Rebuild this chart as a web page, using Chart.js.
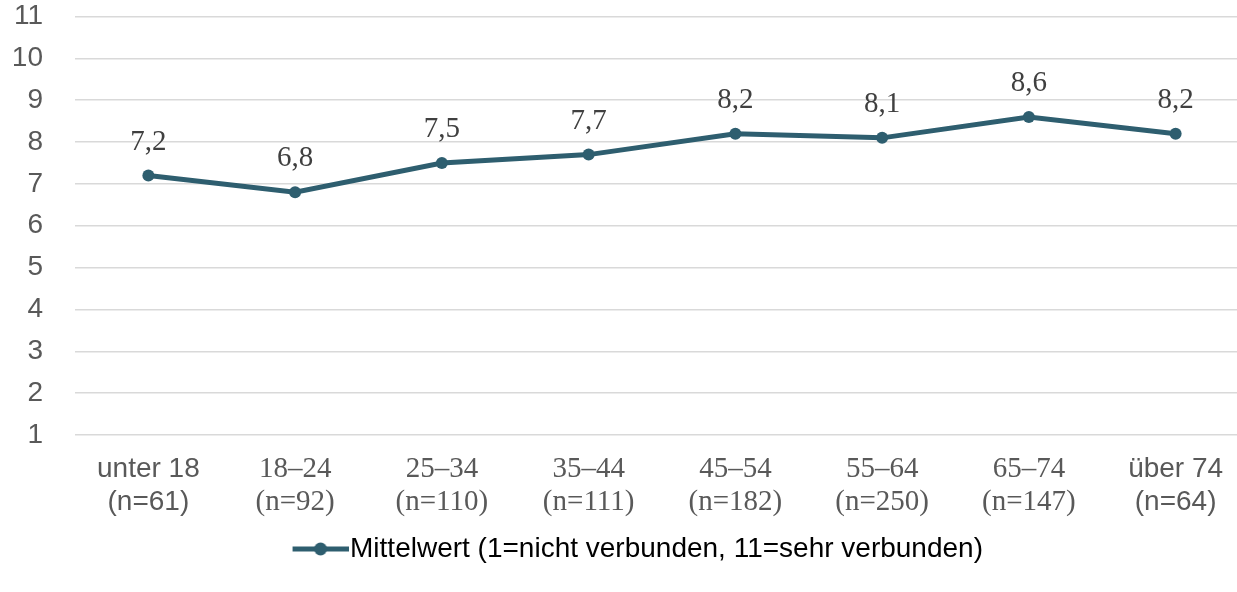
<!DOCTYPE html>
<html lang="de">
<head>
    <meta charset="UTF-8">
    <title>Mittelwert nach Alter</title>
    <script src="https://cdn.jsdelivr.net/npm/chart.js"></script>
    <style>
        html, body {
            margin: 0;
            padding: 0;
            background: #ffffff;
            overflow: hidden;
        }

        #chart-container {
            position: relative;
            width: 1249px;
            height: 592px;
        }
    </style>
</head>
<body>
    <div id="chart-container">
        <canvas id="ageChart"></canvas>
    </div>

    <script>
        // data
        const ageGroups = ['unter 18', '18–24', '25–34', '35–44', '45–54', '55–64', '65–74', 'über 74'];
        const sampleSizes = ['(n=61)', '(n=92)', '(n=110)', '(n=111)', '(n=182)', '(n=250)', '(n=147)', '(n=64)'];
        const meanValues = [7.2, 6.8, 7.5, 7.7, 8.2, 8.1, 8.6, 8.2];
        const seriesName = 'Mittelwert (1=nicht verbunden, 11=sehr verbunden)';
        const yMin = 1;
        const yMax = 11;

        const lineColor = '#2E5E6F';
        const sansFamily = '"Liberation Sans", Arial, sans-serif';
        const serifFamily = '"Liberation Serif", "Times New Roman", serif';
        const sansFont = { family: sansFamily, size: 28, lineHeight: 1.18 };
        const serifFont = { family: serifFamily, size: 29, lineHeight: 1.14 };

        const labels = ageGroups.map((g, i) => [g, sampleSizes[i]]);

        // line-with-dot marker for the legend (left part is empty on purpose)
        function legendMarker() {
            const c = document.createElement('canvas');
            c.width = 81;
            c.height = 16;
            const g = c.getContext('2d');
            g.strokeStyle = lineColor;
            g.lineWidth = 5;
            g.beginPath();
            g.moveTo(25, 8);
            g.lineTo(81, 8);
            g.stroke();
            g.fillStyle = lineColor;
            g.beginPath();
            g.arc(53, 8, 6.5, 0, Math.PI * 2);
            g.fill();
            return c;
        }
        const marker = legendMarker();

        const valueLabels = {
            id: 'valueLabels',
            afterDatasetsDraw(chart) {
                const ctx = chart.ctx;
                const meta = chart.getDatasetMeta(0);
                ctx.save();
                ctx.font = '29px ' + serifFamily;
                ctx.fillStyle = '#404040';
                ctx.textAlign = 'center';
                ctx.textBaseline = 'alphabetic';
                meta.data.forEach((pt, i) => {
                    const txt = meanValues[i].toFixed(1).replace('.', ',');
                    ctx.fillText(txt, pt.x, pt.y - 26);
                });
                ctx.restore();
            }
        };

        const ctx = document.getElementById('ageChart').getContext('2d');
        new Chart(ctx, {
            type: 'line',
            data: {
                labels: labels,
                datasets: [{
                    label: seriesName,
                    data: meanValues,
                    borderColor: lineColor,
                    backgroundColor: lineColor,
                    borderWidth: 5,
                    pointRadius: 6,
                    pointHoverRadius: 6,
                    pointBackgroundColor: lineColor,
                    pointBorderWidth: 0,
                    tension: 0,
                    fill: false
                }]
            },
            options: {
                responsive: true,
                maintainAspectRatio: false,
                animation: false,
                layout: {
                    autoPadding: false,
                    padding: { top: 16.5, left: 14, right: 0, bottom: 19 }
                },
                plugins: {
                    tooltip: { enabled: false },
                    legend: {
                        position: 'bottom',
                        labels: {
                            usePointStyle: true,
                            pointStyleWidth: 56,
                            color: '#595959',
                            font: { family: sansFamily, size: 28 },
                            padding: 14,
                            generateLabels: (chart) => [{
                                text: seriesName,
                                pointStyle: marker,
                                fillStyle: lineColor,
                                strokeStyle: lineColor,
                                lineWidth: 0,
                                datasetIndex: 0
                            }]
                        }
                    }
                },
                scales: {
                    x: {
                        offset: true,
                        border: { display: false },
                        grid: { display: false, drawTicks: false },
                        afterFit: (s) => { s.height = 86; },
                        ticks: {
                            color: '#595959',
                            padding: 18,
                            maxRotation: 0,
                            autoSkip: false,
                            font: (c) => (c.index === 0 || c.index === ageGroups.length - 1) ? sansFont : serifFont
                        }
                    },
                    y: {
                        min: yMin,
                        max: yMax,
                        border: { display: false },
                        grid: { color: '#d9d9d9', lineWidth: 1.5, drawTicks: false },
                        afterFit: (s) => {
                            s.width = 61;
                            s.paddingTop = 0;
                            s.paddingBottom = 0;
                        },
                        ticks: {
                            stepSize: 1,
                            color: '#595959',
                            padding: 32,
                            font: { family: sansFamily, size: 28 }
                        }
                    }
                }
            },
            plugins: [valueLabels]
        });
    </script>
</body>
</html>
